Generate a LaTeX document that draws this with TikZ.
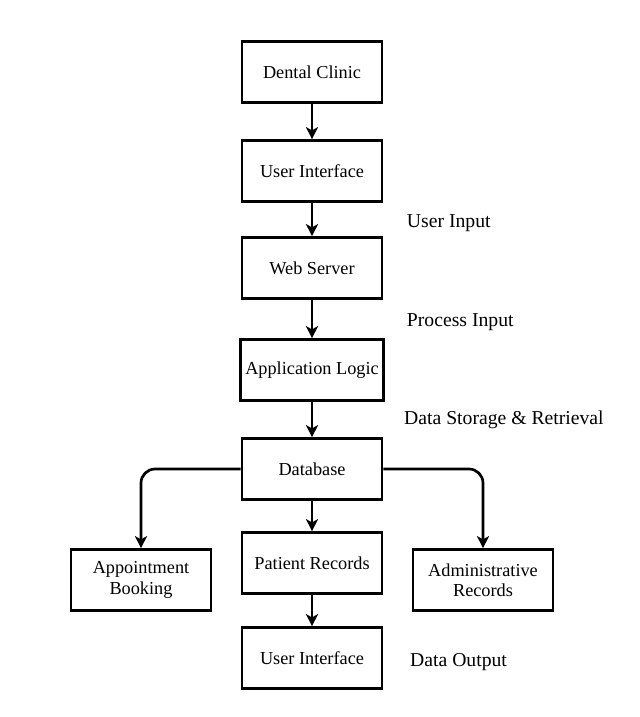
\documentclass[tikz,border=0pt]{standalone}
\usepackage{fontspec}
\setmainfont{Liberation Serif}
\usetikzlibrary{positioning,arrows.meta}
\tikzset{>={Stealth[length=0.3cm,width=0.3cm,inset=0.08cm]}}
\tikzset{block/.style={draw,line width=1.9pt,minimum width=3.5cm,minimum height=1.525cm,align=center,font=\fontsize{13}{14.5}\selectfont}}
\tikzset{note/.style={anchor=west,font=\fontsize{14}{15}\selectfont}}
\tikzset{link/.style={->,line width=1.9pt}}

\begin{document}
\begin{tikzpicture}
    \useasboundingbox (0,0) rectangle (16,-17.925);
    % main column
    \node[block] (clinic) at (7.8,-1.8) {Dental Clinic};
    \node[block] (ui) at (7.8,-4.275) {User Interface};
    \node[block] (web) at (7.8,-6.7) {Web Server};
    \node[block] (logic) at (7.8,-9.25) {Application Logic};
    \node[block] (db) at (7.8,-11.725) {Database};
    \node[block] (patient) at (7.8,-14.075) {Patient Records};
    \node[block] (uiout) at (7.8,-16.45) {User Interface};
    % side boxes
    \node[block] (booking) at (3.525,-14.5) {Appointment\\Booking};
    \node[block] (admin) at (12.075,-14.5) {Administrative\\Records};
    % labels
    \node[note] (lbinput) at (10.05,-5.575) {User Input};
    \node[note] (lbprocess) at (10.05,-8.05) {Process Input};
    \node[note] (lbstore) at (9.98,-10.5) {Data Storage \& Retrieval};
    \node[note] (lboutput) at (10.13,-16.55) {Data Output};
    % arrows
    \draw[link] (clinic) -- (ui);
    \draw[link] (ui) -- (web);
    \draw[link] (web) -- (logic);
    \draw[link] (logic) -- (db);
    \draw[link] (db) -- (patient);
    \draw[link] (patient) -- (uiout);
    \draw[link,rounded corners=0.35cm] (db.west) -| (booking.north);
    \draw[link,rounded corners=0.35cm] (db.east) -| (admin.north);
\end{tikzpicture}
\end{document}
